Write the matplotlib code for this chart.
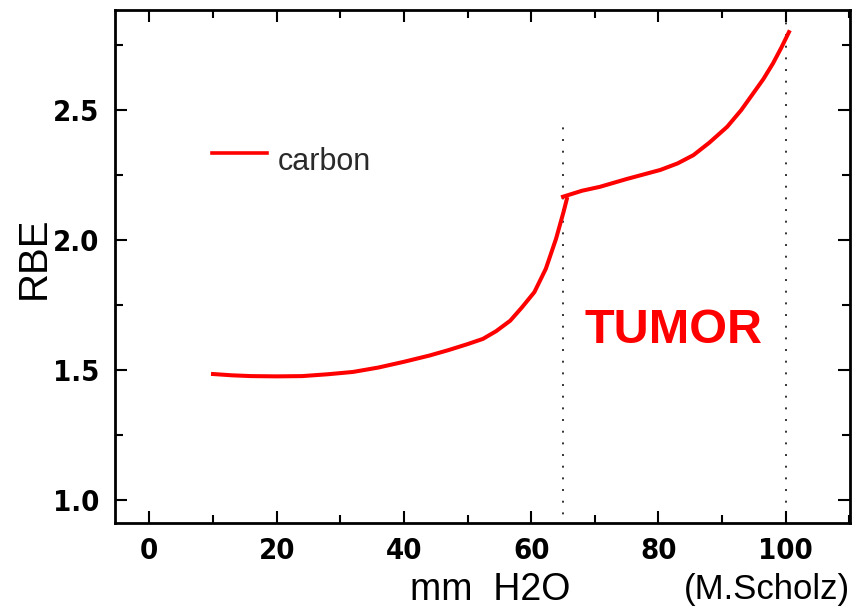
import matplotlib
matplotlib.use("Agg")
import matplotlib.pyplot as plt
from matplotlib.ticker import MultipleLocator

# carbon RBE vs depth (two pieces, jump at 65 mm)
depth_a = [10, 13, 16, 20, 24, 28, 32, 36, 40, 44, 47, 50, 52.4, 54.5,
           56.7, 58.5, 60.5, 62.3, 63.9, 65.1, 65.6]
rbe_a = [1.485, 1.480, 1.477, 1.476, 1.477, 1.484, 1.493, 1.510, 1.532,
         1.556, 1.577, 1.600, 1.620, 1.650, 1.690, 1.740, 1.800, 1.890,
         2.005, 2.110, 2.158]
depth_b = [65.0, 68.0, 70.8, 75.0, 80.3, 83.0, 85.5, 88.0, 90.8, 93.0,
           94.9, 96.5, 98.0, 99.3, 100.5]
rbe_b = [2.167, 2.190, 2.205, 2.235, 2.270, 2.295, 2.327, 2.375, 2.436,
         2.500, 2.565, 2.620, 2.680, 2.740, 2.800]

tumor_edges = [65, 100]
tumor_tops = [2.47, 2.885]

fig = plt.figure(figsize=(8.68, 6.14), dpi=100)
ax = fig.add_axes([0.1325, 0.1482, 0.9793 - 0.1325, 0.9837 - 0.1482])

ax.plot(depth_a, rbe_a, color="red", lw=2.9, solid_joinstyle="round")
ax.plot(depth_b, rbe_b, color="red", lw=2.9, solid_joinstyle="round")

for xe, top in zip(tumor_edges, tumor_tops):
    ax.vlines(xe, 0.9, top, colors="#333333", lw=1.4,
              linestyles=(0, (1, 5)), zorder=1)

# hand drawn legend entry
ax.plot([9.8, 18.5], [2.336, 2.336], color="red", lw=2.6)
ax.text(20.2, 2.269, "carbon", fontsize=22, color="#2a2a2a",
        family="Liberation Sans", va="baseline", ha="left")

ax.text(82.3, 1.654, "TUMOR", fontsize=35, color="red", weight="bold",
        family="Liberation Sans", ha="center", va="center")

ax.set_xlim(-5.4, 110.1)
ax.set_ylim(0.912, 2.885)
ax.xaxis.set_major_locator(MultipleLocator(20))
ax.xaxis.set_minor_locator(MultipleLocator(10))
ax.yaxis.set_major_locator(MultipleLocator(0.5))
ax.yaxis.set_minor_locator(MultipleLocator(0.25))
ax.set_yticks([1.0, 1.5, 2.0, 2.5])
ax.set_yticklabels(["1.0", "1.5", "2.0", "2.5"])

ax.tick_params(which="both", direction="in", top=True, right=True,
               width=1.5, color="black")
ax.tick_params(which="major", length=8.5)
ax.tick_params(which="minor", length=5.5)
ax.tick_params(axis="x", which="major", pad=10)
ax.tick_params(axis="y", which="major", pad=11)
for lab in ax.get_xticklabels() + ax.get_yticklabels():
    lab.set_family("DejaVu Sans")
    lab.set_fontstretch("condensed")
    lab.set_fontweight("bold")
    lab.set_fontsize(21)
for sp in ax.spines.values():
    sp.set_linewidth(2.0)

fig.text(34 / 868, 1 - 258 / 614, "RBE", rotation=90, fontsize=29,
         family="Liberation Sans", ha="center", va="center")
fig.text(490 / 868, 1 - 590 / 614, "mm  H2O", fontsize=27,
         family="Liberation Sans", ha="center", va="center")
fig.text(850 / 868, 1 - 590 / 614, "(M.Scholz)", fontsize=25,
         family="Liberation Sans", ha="right", va="center")

fig.savefig("out.png", dpi=100)
